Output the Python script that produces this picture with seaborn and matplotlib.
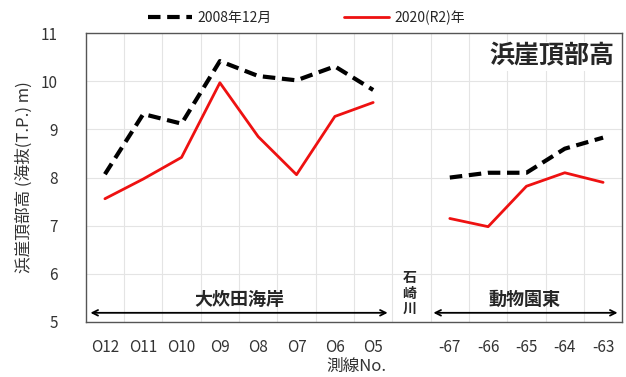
import numpy as np
import pandas as pd
import seaborn as sns
import matplotlib.pyplot as plt

sns.set_style("white")
plt.rcParams['font.family'] = ['Noto Sans CJK JP', 'DejaVu Sans']

# 測線
labels = ["O12", "O11", "O10", "O9", "O8", "O7", "O6", "O5", "",
          "-67", "-66", "-65", "-64", "-63"]
v2008 = [8.07, 9.32, 9.12, 10.42, 10.11, 10.02, 10.31, 9.82, np.nan,
         8.0, 8.1, 8.1, 8.6, 8.83]
v2020 = [7.56, 7.97, 8.42, 9.97, 8.85, 8.06, 9.27, 9.56, np.nan,
         7.15, 6.98, 7.82, 8.1, 7.9]

pos = np.arange(len(labels))
df = pd.DataFrame({"pos": pos, "label": labels, "v2008": v2008, "v2020": v2020})
segs = [df.iloc[:8], df.iloc[9:]]

fig, ax = plt.subplots(figsize=(6.26, 3.77), dpi=100)
fig.subplots_adjust(left=0.137, right=0.994, top=0.912, bottom=0.146)

for i, s in enumerate(segs):
    sns.lineplot(data=s, x="pos", y="v2008", ax=ax, color="black", lw=3,
                 linestyle=(0, (3, 1.6)), label="2008年12月" if i == 0 else None)
    sns.lineplot(data=s, x="pos", y="v2020", ax=ax, color="#ee1111", lw=2,
                 label="2020(R2)年" if i == 0 else None)

ax.set_xlim(-0.5, len(labels) - 0.5)
ax.set_ylim(5, 11)
ax.set_xticks(pos)
ax.set_xticklabels(labels, fontsize=11, color="#333333")
ax.set_xticks(pos[:-1] + 0.5, minor=True)
ax.set_yticks(range(5, 12))
ax.tick_params(axis="y", labelsize=11, colors="#333333", length=0, pad=20)
ax.tick_params(axis="x", which="both", length=0, pad=12)
ax.grid(True, axis="y", color="#e4e4e4", lw=0.8)
ax.grid(True, axis="x", which="minor", color="#e4e4e4", lw=0.8)
for sp in ax.spines.values():
    sp.set_color("#555555")
    sp.set_linewidth(1)

ax.set_xlabel("測線No.", fontsize=12, color="#333333", labelpad=0)
ax.xaxis.set_label_coords(0.505, -0.125)
ax.set_ylabel("浜崖頂部高 (海抜(T.P.) m)", fontsize=12, color="#333333", labelpad=6)

ax.legend(loc="lower left", bbox_to_anchor=(0.1, 1.0), ncol=2, frameon=False,
          fontsize=10, handlelength=3.2, handletextpad=0.4, columnspacing=5.2,
          borderaxespad=0.2)

# 区間表示
arrow = dict(arrowstyle="<->", color="black", lw=1.3)
ax.annotate("", xy=(-0.45, 5.19), xytext=(7.45, 5.19), arrowprops=arrow)
ax.annotate("", xy=(8.5, 5.19), xytext=(13.45, 5.19), arrowprops=arrow)
ax.text(3.5, 5.27, "大炊田海岸", ha="center", va="bottom", fontsize=13, fontweight="bold")
ax.text(10.95, 5.27, "動物園東", ha="center", va="bottom", fontsize=13, fontweight="bold")
ax.text(7.95, 5.12, "石\n崎\n川", ha="center", va="bottom", fontsize=10,
        fontweight="bold", linespacing=1.15)
ax.text(13.3, 10.52, "浜崖頂部高", ha="right", va="center", fontsize=18,
        fontweight="bold", bbox=dict(facecolor="white", edgecolor="none", pad=2))

plt.savefig("out.png")
